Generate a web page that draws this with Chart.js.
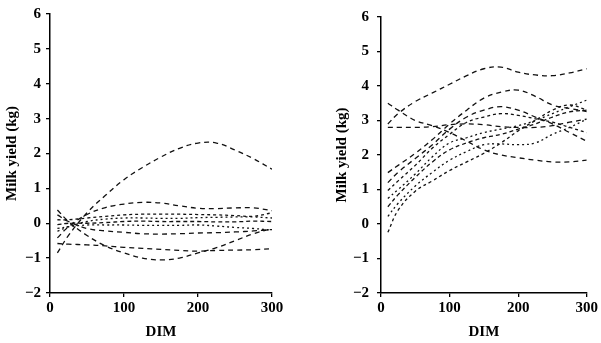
<!DOCTYPE html>
<html><head><meta charset="utf-8">
<script src="https://cdn.jsdelivr.net/npm/chart.js@4.4.0/dist/chart.umd.min.js"></script>
<style>
html,body{margin:0;padding:0;background:#fff;}
#wrap{position:relative;width:601px;height:343px;}
.c{position:absolute;top:0;width:300px;height:343px;}
</style></head>
<body><div id="wrap">
<div class="c" style="left:0"><canvas id="left"></canvas></div>
<div class="c" style="left:300px"><canvas id="right"></canvas></div>
</div>
<script>
// Shared x positions (days in milk)
const dim = [10, 25, 50, 75, 100, 125, 150, 175, 200, 225, 250, 275, 300];
const yTicks = [-2, -1, 0, 1, 2, 3, 4, 5, 6];
const xTicks = [0, 100, 200, 300];

// Left panel curves
const leftA = [-0.85, -0.35, 0.3, 0.8, 1.25, 1.6, 1.9, 2.15, 2.3, 2.3, 2.1, 1.85, 1.55];
const leftB = [0.38, 0.05, -0.35, -0.65, -0.85, -1.0, -1.05, -1.0, -0.85, -0.7, -0.5, -0.3, -0.15];
const leftC = [-0.58, -0.6, -0.62, -0.65, -0.69, -0.72, -0.75, -0.78, -0.8, -0.78, -0.77, -0.76, -0.73];
const leftD = [-0.42, -0.1, 0.25, 0.45, 0.55, 0.6, 0.58, 0.5, 0.43, 0.42, 0.44, 0.44, 0.36];
const leftE = [0.24, 0.05, -0.15, -0.22, -0.26, -0.3, -0.31, -0.3, -0.28, -0.27, -0.25, -0.22, -0.18];
const leftF = [0.1, 0.1, 0.15, 0.2, 0.24, 0.26, 0.26, 0.26, 0.25, 0.24, 0.22, 0.2, 0.3];
const leftG = [-0.23, -0.1, 0.05, 0.12, 0.15, 0.15, 0.14, 0.14, 0.16, 0.17, 0.18, 0.18, 0.15];
const leftH = [-0.04, 0.0, 0.0, 0.02, 0.05, 0.06, 0.05, 0.05, 0.05, 0.04, 0.04, 0.06, 0.05];
const leftI = [-0.15, -0.1, -0.05, -0.05, -0.05, -0.06, -0.06, -0.06, -0.05, -0.08, -0.12, -0.15, -0.2];

// Right panel curves
const rightA = [2.9, 3.2, 3.55, 3.8, 4.05, 4.3, 4.5, 4.55, 4.4, 4.32, 4.3, 4.38, 4.5];
const rightB = [3.5, 3.3, 3.0, 2.85, 2.65, 2.4, 2.15, 2.0, 1.92, 1.85, 1.8, 1.8, 1.85];
const rightC = [2.8, 2.8, 2.8, 2.82, 2.88, 2.9, 2.88, 2.82, 2.8, 2.8, 2.85, 2.95, 3.04];
const rightD = [1.49, 1.7, 2.05, 2.45, 2.9, 3.3, 3.65, 3.82, 3.88, 3.7, 3.45, 3.35, 3.26];
const rightE = [1.2, 1.5, 1.9, 2.3, 2.75, 3.1, 3.3, 3.4, 3.3, 3.1, 2.9, 2.65, 2.4];
const rightF = [0.97, 1.25, 1.7, 2.2, 2.6, 2.95, 3.1, 3.2, 3.15, 3.05, 2.95, 2.8, 2.65];
const rightG = [0.74, 1.0, 1.45, 1.95, 2.35, 2.5, 2.65, 2.75, 2.85, 3.0, 3.2, 3.4, 3.59];
const rightH = [0.5, 0.85, 1.35, 1.8, 2.15, 2.35, 2.5, 2.6, 2.75, 2.9, 3.1, 3.25, 3.3];
const rightI = [0.22, 0.6, 1.1, 1.5, 1.85, 2.1, 2.3, 2.32, 2.3, 2.35, 2.6, 2.8, 3.04];
const rightJ = [-0.24, 0.4, 0.95, 1.25, 1.55, 1.8, 2.05, 2.35, 2.7, 3.0, 3.3, 3.45, 3.3];

const leftSeries = [leftA, leftB, leftC, leftD, leftE, leftF, leftG, leftH, leftI];
const rightSeries = [rightA, rightB, rightC, rightD, rightE, rightF, rightG, rightH, rightI, rightJ];
const dashes = [[5,4],[5,4],[5,4],[5,4],[5,4],[3,3],[2,3],[4,3],[2,3],[3,3]];

const FONT = {family: '"Liberation Serif", "Times New Roman", serif', size: 15, weight: 'bold'};

function makeChart(id, series, opts) {
  const datasets = series.map((s, i) => ({
    data: s.map((v, j) => ({x: dim[j], y: v})),
    borderColor: '#111',
    borderWidth: 1.3,
    borderDash: dashes[i % dashes.length],
    pointRadius: 0,
    tension: 0.4,
    fill: false
  }));
  return new Chart(document.getElementById(id), {
    type: 'line',
    data: {datasets},
    options: {
      responsive: true,
      maintainAspectRatio: false,
      animation: false,
      events: [],
      layout: {padding: {left: 0, right: opts.padRight, top: opts.padTop, bottom: 0}},
      plugins: {legend: {display: false}, tooltip: {enabled: false}},
      scales: {
        x: {
          type: 'linear', min: 0, max: 300,
          afterBuildTicks: sc => { sc.ticks = xTicks.map(v => ({value: v})); },
          afterFit: sc => { sc.height = 50; },
          grid: {display: true, drawOnChartArea: false, drawTicks: true, tickLength: 4, color: '#000', lineWidth: 1.3},
          border: {display: true, color: '#000', width: 1.5},
          ticks: {color: '#000', font: FONT, padding: 2, maxRotation: 0},
          title: {display: true, text: 'DIM', color: '#000', font: FONT, padding: {top: 0, bottom: 2}}
        },
        y: {
          type: 'linear', min: -2, max: 6,
          afterBuildTicks: sc => { sc.ticks = yTicks.map(v => ({value: v})); },
          afterFit: sc => { sc.width = opts.yWidth; },
          grid: {display: true, drawOnChartArea: false, drawTicks: true, tickLength: 4, color: '#000', lineWidth: 1.3},
          border: {display: true, color: '#000', width: 1.5},
          ticks: {color: '#000', font: FONT, padding: opts.tickPad,
                  callback: v => String(v).replace('-', '\u2212')},
          title: {display: true, text: 'Milk yield (kg)', color: '#000', font: FONT, padding: {top: opts.titlePad, bottom: 0}}
        }
      }
    }
  });
}

makeChart('left', leftSeries, {padRight: 28, padTop: 8, yWidth: 50, tickPad: 5, titlePad: 3});
makeChart('right', rightSeries, {padRight: 13, padTop: 7, yWidth: 81, tickPad: 8, titlePad: 33});
</script>
</body></html>
